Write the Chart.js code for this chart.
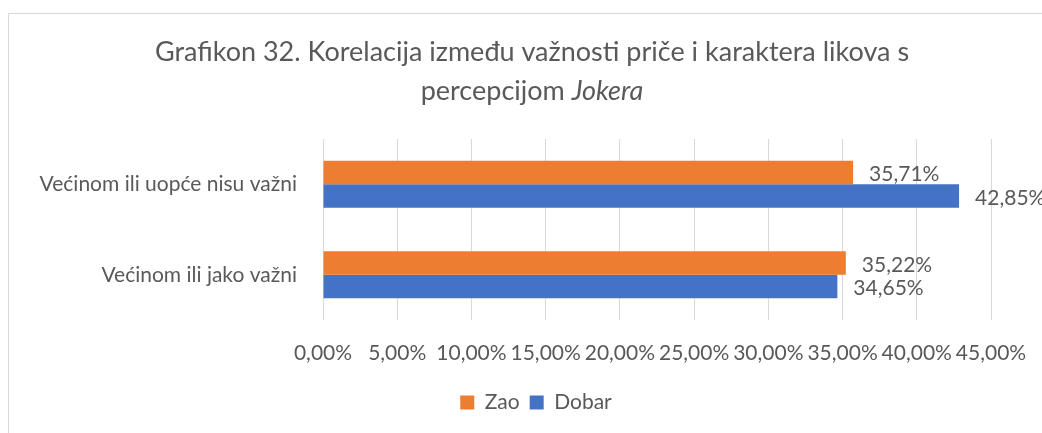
<!DOCTYPE html>
<html>
<head>
<meta charset="utf-8">
<script src="https://cdn.jsdelivr.net/npm/chart.js@4"></script>
<style>
  html, body { margin: 0; padding: 0; background: #fff; overflow: hidden; }
  #frame {
    position: absolute; left: 8px; top: 13px;
    width: 1046px; height: 440px;
    border: 1px solid #D9D9D9; background: #fff;
  }
  #wrap { position: absolute; left: 0; top: 0; width: 1046px; height: 440px; }
</style>
</head>
<body>
<div id="frame"><div id="wrap"><canvas id="chart"></canvas></div></div>
<script>
// ── Data ──────────────────────────────────────────────────────────────────────
const TITLE_LINE_1 = 'Grafikon 32. Korelacija između važnosti priče i karaktera likova s';
const TITLE_LINE_2 = 'percepcijom ';
const TITLE_ITALIC = 'Jokera';

const categories = ['Većinom ili uopće nisu važni', 'Većinom ili jako važni'];
const seriesNames = ['Zao', 'Dobar'];
const zaoValues   = [35.71, 35.22];
const dobarValues = [42.85, 34.65];
const xTicks      = [0, 5, 10, 15, 20, 25, 30, 35, 40, 45];

const ORANGE = '#ED7D31';
const BLUE   = '#4472C4';
const TEXT   = '#595959';
const GRID   = '#D9D9D9';
const FONT   = 'Lato, Carlito, Calibri, sans-serif';
const SIZE   = 21;

const fmt = v => v.toFixed(2).replace('.', ',') + '%';

// ── Title (two lines, second with italic part) ────────────────────────────────
const titlePlugin = {
  id: 'twoLineTitle',
  afterDraw(chart) {
    const ctx = chart.ctx;
    const cx = chart.width / 2;
    ctx.save();
    ctx.fillStyle = TEXT;
    ctx.textBaseline = 'middle';
    ctx.textAlign = 'left';
    ctx.font = `27px ${FONT}`;
    const w1 = ctx.measureText(TITLE_LINE_1).width;
    ctx.fillText(TITLE_LINE_1, cx - w1 / 2, 38);
    const wA = ctx.measureText(TITLE_LINE_2).width;
    ctx.font = `italic 27px ${FONT}`;
    const wB = ctx.measureText(TITLE_ITALIC).width;
    const x0 = cx - (wA + wB) / 2;
    ctx.font = `27px ${FONT}`;
    ctx.fillText(TITLE_LINE_2, x0, 77);
    ctx.font = `italic 27px ${FONT}`;
    ctx.fillText(TITLE_ITALIC, x0 + wA, 77);
    ctx.restore();
  }
};

// ── Data labels at bar ends ───────────────────────────────────────────────────
const labelPlugin = {
  id: 'barLabels',
  afterDatasetsDraw(chart) {
    const ctx = chart.ctx;
    ctx.save();
    ctx.fillStyle = TEXT;
    ctx.font = `${SIZE}px ${FONT}`;
    ctx.textAlign = 'left';
    ctx.textBaseline = 'middle';
    chart.data.datasets.forEach((ds, i) => {
      chart.getDatasetMeta(i).data.forEach((bar, j) => {
        ctx.fillText(fmt(ds.data[j]), bar.x + 16, bar.y + 2);
      });
    });
    ctx.restore();
  }
};

// left padding only serves to centre the legend; let the category labels use it
const unclipLabels = {
  id: 'unclipLabels',
  afterLayout(chart) { chart.scales.y.left = 0; }
};

new Chart(document.getElementById('chart'), {
  type: 'bar',
  data: {
    labels: categories,
    datasets: [
      { label: seriesNames[0], data: zaoValues,   backgroundColor: ORANGE },
      { label: seriesNames[1], data: dobarValues, backgroundColor: BLUE },
    ]
  },
  options: {
    indexAxis: 'y',
    responsive: true, maintainAspectRatio: false,
    animation: false,
    datasets: { bar: { categoryPercentage: 0.522, barPercentage: 1.0 } },
    layout: { padding: { top: 125, right: 64, left: 72, bottom: 31 } },
    plugins: {
      title: { display: false },
      tooltip: { enabled: false },
      legend: {
        position: 'bottom',
        labels: {
          color: TEXT, font: { family: FONT, size: SIZE },
          boxWidth: 14, boxHeight: 14, padding: 10,
        }
      }
    },
    scales: {
      x: {
        min: 0, max: 45,
        afterBuildTicks: s => { s.ticks = xTicks.map(v => ({ value: v })); },
        afterFit: s => { s.height = 62; },
        grid: { color: GRID, lineWidth: 1, drawTicks: false },
        border: { display: false },
        ticks: { color: TEXT, font: { family: FONT, size: SIZE }, padding: 21,
                 maxRotation: 0, autoSkip: false, callback: v => fmt(v) }
      },
      y: {
        afterFit: s => { s.width = 242; },
        grid: { display: false, drawTicks: false },
        border: { display: false },
        ticks: { color: TEXT, font: { family: FONT, size: SIZE }, padding: 26 }
      }
    }
  },
  plugins: [titlePlugin, labelPlugin, unclipLabels]
});
</script>
</body>
</html>
